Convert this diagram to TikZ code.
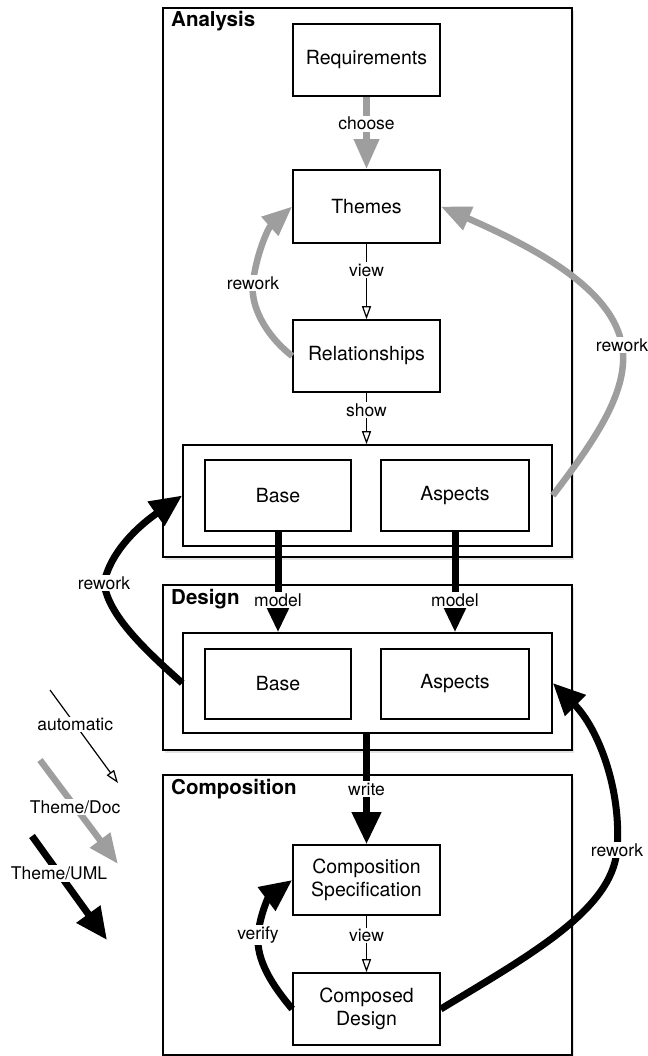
\documentclass[tikz,border=0pt]{standalone}
\usepackage{fontspec}
\setmainfont{TeX Gyre Heros}
\usetikzlibrary{arrows.meta,shadows}
\definecolor{docgray}{RGB}{158,158,158}
\begin{document}
\begin{tikzpicture}[x=1pt,y=-1pt,
  frame/.style={draw, line width=1.6pt, inner sep=0pt, fill=white,
    drop shadow={opacity=0.22, shadow xshift=2pt, shadow yshift=-3pt}},
  group/.style={draw, line width=1.6pt, inner sep=0pt, fill=white},
  box/.style={draw, line width=1.6pt, inner sep=0pt, fill=white, align=center,
    font=\fontsize{19.5}{22.5}\selectfont},
  title/.style={anchor=west, inner sep=0pt, font=\bfseries\fontsize{20.5}{24}\selectfont},
  lab/.style={fill=white, inner sep=1.5pt, font=\fontsize{17.5}{20}\selectfont},
  auto/.style={line width=1.2pt, -{Triangle[open, length=13pt, width=9pt, line width=1.2pt]}},
  doc/.style={draw=docgray, line width=6.5pt, -{Triangle[length=30pt, width=24pt]}},
  uml/.style={line width=7pt, -{Triangle[length=32pt, width=28pt]}}
]
\useasboundingbox (0,0) rectangle (647,1056);

% phase frames
\node[frame, minimum width=409pt, minimum height=549pt] (analysis) at (367.5,282.5) {};
\node[frame, minimum width=409pt, minimum height=165pt] (design) at (367.5,667.5) {};
\node[frame, minimum width=409pt, minimum height=280pt] (composition) at (367.5,915) {};
\node[title] (tA) at (171,21) {Analysis};
\node[title] (tD) at (171,599) {Design};
\node[title] (tC) at (171,789) {Composition};

% analysis
\node[box, minimum width=147pt, minimum height=72pt] (req) at (366.5,60) {Requirements};
\node[box, minimum width=147pt, minimum height=73pt] (themes) at (366.5,206.5) {Themes};
\node[box, minimum width=147pt, minimum height=72pt] (rel) at (366.5,356) {Relationships};
\node[group, minimum width=369pt, minimum height=101pt] (innerA) at (367.5,495.5) {};
\node[box, minimum width=146pt, minimum height=71pt] (baseA) at (278,495.5) {Base};
\node[box, minimum width=148pt, minimum height=71pt] (aspA) at (455,495.5) {Aspects};

% design
\node[group, minimum width=369pt, minimum height=100pt] (innerD) at (367.5,683) {};
\node[box, minimum width=146pt, minimum height=70pt] (baseD) at (278,684) {Base};
\node[box, minimum width=148pt, minimum height=70pt] (aspD) at (455,684) {Aspects};

% composition
\node[box, minimum width=147pt, minimum height=70pt] (spec) at (366.5,880) {Composition\\Specification};
\node[box, minimum width=147pt, minimum height=72pt] (composed) at (366.5,1009) {Composed\\Design};

% straight connectors
\draw[doc] (req.south) -- node[lab, pos=0.37]{choose} (themes.north);
\draw[auto] (themes.south) -- node[lab, pos=0.35]{view} (rel.north);
\draw[auto] (rel.south) -- node[lab, pos=0.34]{show} (rel.south |- innerA.north);
\draw[uml] (baseA.south) -- node[lab, pos=0.68]{model} (baseA.south |- innerD.north);
\draw[uml] (aspA.south) -- node[lab, pos=0.68]{model} (aspA.south |- innerD.north);
\draw[uml] (innerD.south -| spec.north) -- node[lab, pos=0.5]{write} (spec.north);
\draw[auto] (spec.south) -- node[lab, pos=0.35]{view} (composed.north);

% rework loops
\draw[doc] (rel.west) .. controls (265,335) and (250,305) .. (253,283)
  node[lab]{rework} .. controls (256,255) and (268,228) .. (themes.west);
\draw[doc] (innerA.east) .. controls (595,440) and (630,390) .. (622,345)
  node[lab]{rework} .. controls (612,290) and (540,250) .. (themes.east);
\draw[uml] (innerD.west) .. controls (145,650) and (108,615) .. (104,583)
  node[lab]{rework} .. controls (112,545) and (150,518) .. (innerA.west);
\draw[uml] (composed.west) .. controls (272,985) and (256,960) .. (258,935)
  node[lab]{verify} .. controls (260,915) and (268,898) .. (spec.west);
\draw[uml] (composed.east) .. controls (530,955) and (612,910) .. (617,850)
  node[lab]{rework} .. controls (622,790) and (598,728) .. (innerD.east);

% legend
\coordinate (a1) at (50,690);
\coordinate (a2) at (118,783);
\coordinate (d1) at (40,760);
\coordinate (d2) at (118,864);
\coordinate (u1) at (32,836);
\coordinate (u2) at (107,940);
\draw[auto] (a1) -- node[lab, pos=0.37]{automatic} (a2);
\draw[doc] (d1) -- node[lab, pos=0.45]{Theme/Doc} (d2);
\draw[uml] (u1) -- node[lab, pos=0.36]{Theme/UML} (u2);
\end{tikzpicture}
\end{document}
